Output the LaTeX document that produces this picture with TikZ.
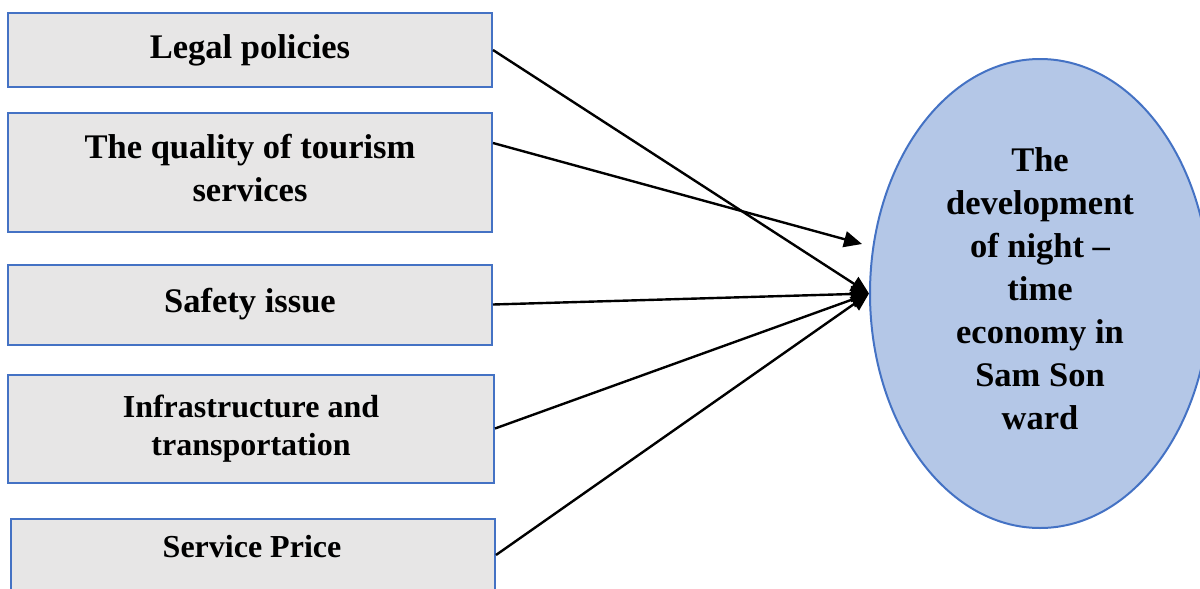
\documentclass[tikz,border=0pt]{standalone}
\usepackage{fontspec}
\setmainfont{Liberation Serif}
\usetikzlibrary{arrows.meta,shapes.geometric,calc}
\definecolor{boxfill}{HTML}{E7E6E6}
\definecolor{boxline}{HTML}{4472C4}
\definecolor{ellfill}{HTML}{B4C7E7}
\begin{document}
\begin{tikzpicture}[x=0.5pt,y=-0.5pt,
  bigtext/.style={font=\bfseries\fontsize{17.25}{21.5}\selectfont},
  smalltext/.style={font=\bfseries\fontsize{16}{19}\selectfont},
  factor/.style={draw=boxline, line width=1pt, fill=boxfill, rectangle, inner sep=0pt, align=center, bigtext},
  link/.style={line width=1.2pt, -{Triangle[length=9pt,width=8pt]}}]
\useasboundingbox (0,0) rectangle (1200,589);

\node[factor, minimum width=242pt, minimum height=37pt] (b1) at (250,50) {Legal policies};
\node[factor, minimum width=242pt, minimum height=59.5pt] (b2) at (250,172.5) {};
\node[bigtext, align=center] (t2) at (250,168) {The quality of tourism\\services};
\node[factor, minimum width=242pt, minimum height=40pt] (b3) at (250,304.5) {Safety issue};
\node[factor, smalltext, minimum width=243pt, minimum height=54pt] (b4) at (251,428.5) {Infrastructure and\\transportation};
\node[factor, minimum width=242pt, minimum height=51pt, anchor=north west] (b5) at (10,518) {};
\node[smalltext] (t5) at (252,547) {Service Price};

\node[ellipse, draw=boxline, line width=1pt, fill=ellfill, minimum width=170pt, minimum height=234.5pt, inner sep=0pt] (ell) at (1040,293.5) {};
\node[bigtext, align=center] (et) at (1040,288.5) {The\\development\\of night –\\time\\economy in\\Sam Son\\ward};

\coordinate (q) at (862,244);
\draw[link] (b1.east) -- (ell.west);
\draw[link] ($(b2.east)+(0,-29.5)$) -- (q);
\draw[link] (b3.east) -- (ell.west);
\draw[link] (b4.east) -- (ell.west);
\draw[link] ($(b5.north east)+(0,37)$) -- (ell.west);
\end{tikzpicture}
\end{document}
